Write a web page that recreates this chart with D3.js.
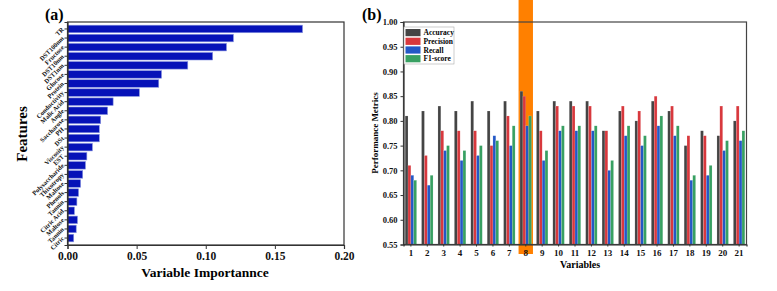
<!DOCTYPE html>
<html lang="en">
<head>
<meta charset="UTF-8">
<title>Feature importance and metrics</title>
<script src="https://d3js.org/d3.v7.min.js"></script>
<style>
    body {margin:0; background:#fff;}
    svg text {font-family: "Liberation Serif", "Times New Roman", serif; font-weight: bold;}
    .axis path, .axis line {stroke:#333;}
    .axis text {fill:#111;}
</style>
</head>
<body>
<div id="chart"></div>
<script>
    // panel (a) - variable importance
    var features = ["TR", "DST100nm", "Fructose", "DST10nm", "DST1nm", "Glucose", "Protein",
        "Conductivity", "Malic Acid", "Angle", "Saccharose", "PH", "DSt", "Viscosity", "EST",
        "Polysaccharide", "Thixotropy", "Maltose", "Phenols", "Tannin", "Citric Acid",
        "Maltose ", "Tannin ", "Citric"];
    var importance = [0.170, 0.120, 0.115, 0.105, 0.087, 0.068, 0.066, 0.052, 0.033, 0.029,
        0.024, 0.023, 0.023, 0.018, 0.014, 0.013, 0.011, 0.0095, 0.008, 0.0068, 0.005,
        0.0072, 0.0063, 0.0045];
    var impTicks = [0, 0.05, 0.10, 0.15, 0.20];

    // panel (b) - performance metrics
    var variables = d3.range(1, 22).map(String);
    var metrics = ["Accuracy", "Precision", "Recall", "F1-score"];
    var accuracy  = [0.81,0.82,0.83,0.82,0.84,0.82,0.84,0.86,0.82,0.84,0.84,0.84,0.78,0.82,0.80,0.84,0.82,0.75,0.78,0.77,0.80];
    var precision = [0.71,0.73,0.78,0.78,0.78,0.75,0.81,0.85,0.78,0.83,0.83,0.83,0.78,0.83,0.82,0.85,0.83,0.77,0.77,0.83,0.83];
    var recall    = [0.69,0.67,0.74,0.72,0.73,0.77,0.75,0.79,0.72,0.78,0.78,0.78,0.70,0.77,0.75,0.79,0.77,0.68,0.69,0.74,0.76];
    var f1score   = [0.68,0.69,0.75,0.74,0.75,0.76,0.79,0.81,0.74,0.79,0.79,0.79,0.72,0.79,0.77,0.81,0.79,0.69,0.71,0.76,0.78];
    var metricTicks = d3.range(0.55, 1.0001, 0.05);
    var highlight = "8";

    var colors = ["#444444", "#d8383d", "#2358c6", "#38a062"];
    var serif = "'Liberation Serif', 'Times New Roman', serif";

    var svg = d3.select("#chart").append("svg")
        .attr("width", 777).attr("height", 291);

    // ---------- (a) ----------
    var ax = {left: 67.5, right: 344, top: 22, bottom: 245};

    var x = d3.scaleLinear().domain([0, 0.20]).range([ax.left, ax.right]);
    var y = d3.scaleBand().domain(features.map(function(d, i) {return i;}))
        .range([ax.top, ax.bottom]).paddingInner(0.17).paddingOuter(0.35);

    var ga = svg.append("g");

    ga.selectAll("rect.imp")
        .data(importance)
        .enter().append("rect")
        .attr("class", "imp")
        .attr("x", x(0))
        .attr("y", function(d, i) {return y(i);})
        .attr("width", function(d) {return x(d) - x(0);})
        .attr("height", y.bandwidth())
        .attr("fill", "#0612b8")
        .attr("stroke", "#8a96e0")
        .attr("stroke-width", 0.6);

    ga.append("rect")
        .attr("x", ax.left).attr("y", ax.top)
        .attr("width", ax.right - ax.left).attr("height", ax.bottom - ax.top)
        .attr("fill", "none").attr("stroke", "#333").attr("stroke-width", 1.2);

    ga.append("g").attr("class", "axis")
        .attr("transform", "translate(0," + ax.bottom + ")")
        .call(d3.axisBottom(x).tickValues(impTicks).tickFormat(d3.format(".2f")).tickSize(4))
        .call(function(g) {
            g.attr("font-family", serif);
            g.select(".domain").attr("stroke-width", 1.2);
            g.selectAll("text").attr("font-size", 11.5);
        });

    var yAxisA = ga.append("g").attr("class", "axis")
        .attr("transform", "translate(" + ax.left + ",0)")
        .call(d3.axisLeft(y).tickSize(3).tickFormat(function(i) {return features[i];}));
    yAxisA.attr("font-family", serif);
    yAxisA.select(".domain").attr("stroke-width", 1.2);
    yAxisA.selectAll("text")
        .attr("font-size", 6.5)
        .attr("x", -4).attr("dy", "0.2em")
        .attr("transform", "rotate(-45,-4,0)");

    ga.append("text").text("(a)")
        .attr("x", 45).attr("y", 20).attr("font-size", 16);
    ga.append("text").text("Features")
        .attr("transform", "translate(27,134) rotate(-90)")
        .attr("text-anchor", "middle").attr("font-size", 15);
    ga.append("text").text("Variable Importannce")
        .attr("x", 205).attr("y", 277)
        .attr("text-anchor", "middle").attr("font-size", 13.5);

    // ---------- (b) ----------
    var bx = {left: 403.5, right: 746.5, top: 22, bottom: 244.5};

    var x0 = d3.scaleBand().domain(variables).range([bx.left, bx.right]).paddingInner(0.3).paddingOuter(0.1);
    var x1 = d3.scaleBand().domain(metrics).range([0, x0.bandwidth()]);
    var yb = d3.scaleLinear().domain([0.55, 1.0]).range([bx.bottom, bx.top]);

    var gb = svg.append("g");
    var series = [accuracy, precision, recall, f1score];

    // highlighted variable
    var hx = x0(highlight) + x0.bandwidth() / 2;
    gb.append("rect")
        .attr("x", hx - 7.2).attr("y", 0)
        .attr("width", 14.4).attr("height", 254)
        .attr("fill", "#ff8000");

    var groups = gb.selectAll("g.grp")
        .data(variables)
        .enter().append("g")
        .attr("class", "grp")
        .attr("transform", function(d) {return "translate(" + x0(d) + ",0)";});

    groups.selectAll("rect")
        .data(function(d, i) {return metrics.map(function(m, k) {return {m: m, k: k, v: series[k][i]};});})
        .enter().append("rect")
        .attr("x", function(d) {return x1(d.m);})
        .attr("y", function(d) {return yb(d.v);})
        .attr("width", x1.bandwidth())
        .attr("height", function(d) {return bx.bottom - yb(d.v);})
        .attr("fill", function(d) {return colors[d.k];})
        .attr("stroke", "#ffffff")
        .attr("stroke-opacity", 0.35)
        .attr("stroke-width", 0.4);

    gb.append("rect")
        .attr("x", bx.left).attr("y", bx.top)
        .attr("width", bx.right - bx.left).attr("height", bx.bottom - bx.top)
        .attr("fill", "none").attr("stroke", "#444").attr("stroke-width", 1.2);

    gb.append("g").attr("class", "axis")
        .attr("transform", "translate(" + bx.left + ",0)")
        .call(d3.axisLeft(yb).tickValues(metricTicks).tickFormat(d3.format(".2f")).tickSize(3))
        .call(function(g) {
            g.attr("font-family", serif);
            g.select(".domain").attr("stroke-width", 1.2);
            g.selectAll("text").attr("font-size", 8.5);
        });

    gb.append("g").attr("class", "axis")
        .attr("transform", "translate(0," + bx.bottom + ")")
        .call(d3.axisBottom(x0).tickSize(2))
        .call(function(g) {
            g.attr("font-family", serif);
            g.select(".domain").attr("stroke-width", 1.2);
            g.selectAll("text").attr("font-size", 9);
        });

    // legend
    var lg = gb.append("g").attr("transform", "translate(404,27)");
    lg.append("rect")
        .attr("width", 50).attr("height", 37)
        .attr("fill", "#fff").attr("stroke", "#aaa").attr("stroke-width", 0.6);
    var li = lg.selectAll("g.li")
        .data(metrics)
        .enter().append("g")
        .attr("class", "li")
        .attr("transform", function(d, i) {return "translate(1.5," + (2 + i * 8.7) + ")";});
    li.append("rect")
        .attr("width", 15).attr("height", 7.2)
        .attr("fill", function(d, i) {return colors[i];});
    li.append("text").text(function(d) {return d;})
        .attr("x", 18).attr("y", 6.3).attr("font-size", 7.5);

    gb.append("text").text("(b)")
        .attr("x", 362).attr("y", 20).attr("font-size", 16);
    gb.append("text").text("Performance Metrics")
        .attr("transform", "translate(378,133) rotate(-90)")
        .attr("text-anchor", "middle").attr("font-size", 9);
    gb.append("text").text("Variables")
        .attr("x", 580).attr("y", 268)
        .attr("text-anchor", "middle").attr("font-size", 10);
</script>
</body>
</html>
